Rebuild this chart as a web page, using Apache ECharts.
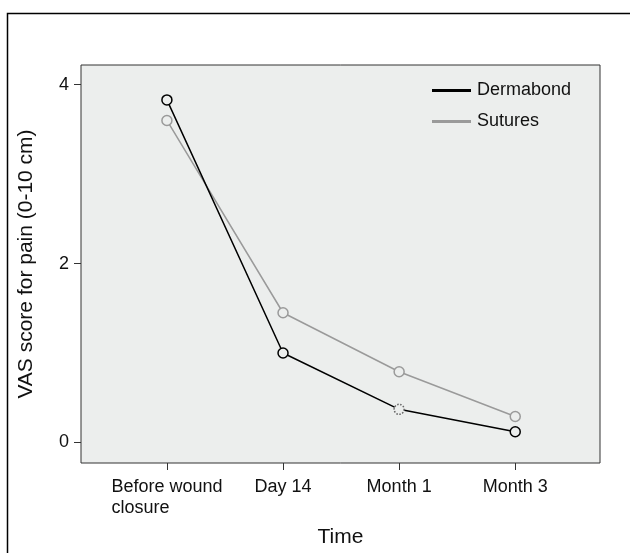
<!DOCTYPE html>
<html><head><meta charset="utf-8">
<script src="https://cdn.jsdelivr.net/npm/echarts@6/dist/echarts.min.js"></script>
<style>html,body{margin:0;padding:0;background:#fff}#c{width:630px;height:553px}</style>
</head><body><div id="c"></div>
<script>
const categories = ['Before wound\nclosure', 'Day 14', 'Month 1', 'Month 3'];
const dermabond = [3.83, 1.0, 0.37, 0.12];
const sutures = [3.6, 1.45, 0.79, 0.29];
const yTicks = [0, 2, 4];

const chart = echarts.init(document.getElementById('c'), null, {renderer: 'canvas'});
const font = 'Arial, "Liberation Sans", sans-serif';
function pts(arr) { return arr.map((v, i) => [i + 1, v]); }
chart.setOption({
  animation: false,
  backgroundColor: '#fff',
  graphic: [{
    type: 'rect', shape: {x: 7.5, y: 13.5, width: 640, height: 560},
    style: {fill: 'none', stroke: '#000', lineWidth: 1.5}, z: -1
  }],
  grid: {left: 81, top: 65, right: 30, bottom: 81.5, show: true, backgroundColor: '#eceeed', borderColor: '#333', borderWidth: 1},
  legend: {
    left: 432, top: 80, padding: 0, orient: 'vertical', itemGap: 10, itemWidth: 37, itemHeight: 1.2,
    icon: 'rect',
    textStyle: {fontSize: 18, fontFamily: font, color: '#111', lineHeight: 21, padding: [0, 0, 0, 2]},
    data: [{name: 'Dermabond', itemStyle: {color: '#000'}}, {name: 'Sutures', itemStyle: {color: '#9a9a9a'}}]
  },
  xAxis: {
    type: 'value', min: 0.26, max: 4.73, interval: 1,
    name: 'Time', nameLocation: 'middle', nameGap: 64,
    nameTextStyle: {fontSize: 21, fontFamily: font, color: '#111'},
    axisLine: {show: false, onZero: false}, splitLine: {show: false},
    axisTick: {show: true, length: 7, lineStyle: {color: '#333'}, customValues: [1, 2, 3, 4]},
    axisLabel: {customValues: [1, 2, 3, 4], fontSize: 18, fontFamily: font, color: '#111', margin: 14, lineHeight: 21,
      align: 'center',
      formatter: v => '{l|' + (categories[Math.round(v) - 1] || '').split('\n').join('}\n{l|') + '}',
      rich: {l: {align: 'left', fontSize: 18, fontFamily: font, color: '#111', lineHeight: 21}}}
  },
  yAxis: {
    type: 'value', min: -0.23, max: 4.22,
    name: 'VAS score for pain (0-10 cm)', nameLocation: 'middle', nameGap: 44, nameRotate: 90,
    nameTextStyle: {fontSize: 21, fontFamily: font, color: '#111'},
    axisLine: {show: false, onZero: false}, splitLine: {show: false},
    axisTick: {show: true, length: 7, lineStyle: {color: '#333'}, customValues: yTicks},
    axisLabel: {customValues: yTicks, fontSize: 18, fontFamily: font, color: '#111', margin: 12}
  },
  series: [
    {name: 'Sutures', type: 'line', data: pts(sutures), symbol: 'circle', symbolSize: 10,
      lineStyle: {color: '#9a9a9a', width: 1.5},
      itemStyle: {color: '#eceeed', borderColor: '#9a9a9a', borderWidth: 1.5}, z: 2},
    {name: 'Dermabond', type: 'line', data: pts(dermabond).map((p, i) => i === 2 ? {value: p, itemStyle: {borderType: 'dotted', borderColor: '#666'}} : p),
      symbol: 'circle', symbolSize: 10,
      lineStyle: {color: '#000', width: 1.5},
      itemStyle: {color: '#eceeed', borderColor: '#000', borderWidth: 1.5}, z: 3}
  ]
});
</script></body></html>
